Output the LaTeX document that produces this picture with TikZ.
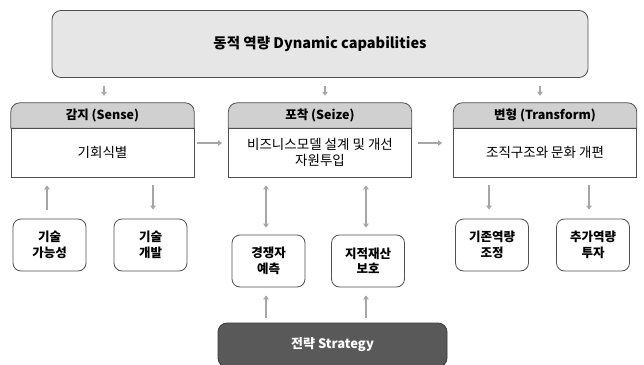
\documentclass[tikz,border=0pt]{standalone}
\usepackage{fontspec}
\setmainfont{Noto Sans CJK KR}
\usetikzlibrary{arrows.meta,backgrounds}

\definecolor{edgecol}{HTML}{505050}
\definecolor{topfill}{HTML}{E6E6E6}
\definecolor{hdrfill}{HTML}{D0D0D0}
\definecolor{arrcol}{HTML}{A6A6A6}
\definecolor{stratfill}{HTML}{595959}
\definecolor{stratedge}{HTML}{3A3A3A}

\tikzset{
  topbox/.style={draw=edgecol, line width=0.8pt, fill=topfill, rounded corners=9pt,
    minimum width=536pt, minimum height=67pt, inner sep=0pt,
    font=\bfseries\fontsize{14.5}{16}\selectfont},
  hdrbox/.style={minimum width=183pt, minimum height=25pt, inner sep=0pt,
    font=\bfseries\fontsize{12.5}{15}\selectfont},
  bodybox/.style={draw=edgecol, line width=0.8pt, fill=white, minimum width=183pt,
    minimum height=49pt, inner sep=0pt, align=center,
    font=\fontsize{13.5}{16.5}\selectfont},
  smallbox/.style={draw=edgecol, line width=0.8pt, fill=white, rounded corners=8pt,
    minimum width=73pt, minimum height=52pt, inner sep=0pt, align=center,
    font=\bfseries\fontsize{12.5}{15.5}\selectfont},
  stratbox/.style={draw=stratedge, line width=0.8pt, fill=stratfill, rounded corners=9pt,
    minimum width=229pt, minimum height=44pt, inner sep=0pt, text=white,
    font=\bfseries\fontsize{13}{15}\selectfont},
  link/.style={draw=arrcol, line width=2.4pt,
    -{Triangle[width=5.5pt,length=4pt]}},
  twoway/.style={draw=arrcol, line width=2.4pt,
    {Triangle[width=5.5pt,length=4pt]}-{Triangle[width=5.5pt,length=4pt]}}
}

% header with rounded top corners only, drawn behind its label
\newcommand{\hdrshape}[1]{%
  \path[fill=hdrfill, draw=edgecol, line width=0.8pt]
    (#1.south west) -- ([yshift=-9pt]#1.north west)
    arc[start angle=180, end angle=90, radius=9pt]
    -- ([xshift=-9pt]#1.north east)
    arc[start angle=90, end angle=0, radius=9pt]
    -- (#1.south east) -- cycle;}

\begin{document}
\begin{tikzpicture}[x=1pt, y=-1pt]
  \useasboundingbox (0,0) rectangle (644,364);

  % dynamic capabilities
  \node[topbox] (dyn) at (320,44) {동적 역량 Dynamic capabilities};

  % three stages
  \node[hdrbox] (senseH) at (102.5,115.5) {감지 (Sense)};
  \node[bodybox] (senseB) at (102.5,152.5) {기회식별};
  \node[hdrbox] (seizeH) at (320,115.5) {포착 (Seize)};
  \node[bodybox] (seizeB) at (320,152.5) {비즈니스모델 설계 및 개선\\자원투입};
  \node[hdrbox] (transH) at (545,115.5) {변형 (Transform)};
  \node[bodybox] (transB) at (545,152.5) {조직구조와 문화 개편};

  \begin{scope}[on background layer]
    \hdrshape{senseH}
    \hdrshape{seizeH}
    \hdrshape{transH}
  \end{scope}

  % activities
  \node[smallbox] (k1) at (49.5,245) {기술\\가능성};
  \node[smallbox] (k2) at (150.5,245) {기술\\개발};
  \node[smallbox] (c1) at (268.5,261) {경쟁자\\예측};
  \node[smallbox] (c2) at (368,261) {지적재산\\보호};
  \node[smallbox] (t1) at (492,245) {기존역량\\조정};
  \node[smallbox] (t2) at (593,245) {추가역량\\투자};

  % strategy
  \node[stratbox] (strat) at (332.5,345) {전략 Strategy};

  % top-down arrows
  \draw[link, shorten <=8.5pt, shorten >=7pt]
    ([xshift=1.5pt]senseH.north |- dyn.south) -- ([xshift=1.5pt]senseH.north);
  \draw[link, shorten <=8.5pt, shorten >=7pt]
    ([xshift=5pt]seizeH.north |- dyn.south) -- ([xshift=5pt]seizeH.north);
  \draw[link, shorten <=8.5pt, shorten >=7pt]
    ([xshift=-5pt]transH.north |- dyn.south) -- ([xshift=-5pt]transH.north);

  % stage to stage
  \draw[link, shorten <=3pt, shorten >=6pt]
    ([yshift=9.5pt]senseB.east) -- ([yshift=9.5pt]seizeB.west);
  \draw[link, shorten <=6.5pt, shorten >=11pt]
    ([yshift=9.5pt]seizeB.east) -- ([yshift=9.5pt]transB.west);

  % sense activities
  \draw[link, shorten <=9pt, shorten >=8pt]
    ([xshift=-2.5pt]k1.north) -- ([xshift=-2.5pt]k1.north |- senseB.south);
  \draw[link, shorten <=8pt, shorten >=9pt]
    ([xshift=2.5pt]k2.north |- senseB.south) -- ([xshift=2.5pt]k2.north);

  % seize activities
  \draw[twoway, shorten <=8pt, shorten >=7pt]
    ([xshift=-2.5pt]c1.north |- seizeB.south) -- ([xshift=-2.5pt]c1.north);
  \draw[twoway, shorten <=8pt, shorten >=7pt]
    ([xshift=-2pt]c2.north |- seizeB.south) -- ([xshift=-2pt]c2.north);

  % transform activities
  \draw[link, shorten <=8pt, shorten >=9pt]
    ([xshift=-3pt]t1.north |- transB.south) -- ([xshift=-3pt]t1.north);
  \draw[link, shorten <=8pt, shorten >=9pt]
    ([xshift=-4pt]t2.north |- transB.south) -- ([xshift=-4pt]t2.north);

  % strategy feeds the seize activities
  \draw[link, shorten <=5pt, shorten >=8pt]
    ([xshift=-2.5pt]c1.south |- strat.north) -- ([xshift=-2.5pt]c1.south);
  \draw[link, shorten <=5pt, shorten >=8pt]
    ([xshift=-2pt]c2.south |- strat.north) -- ([xshift=-2pt]c2.south);
\end{tikzpicture}
\end{document}
